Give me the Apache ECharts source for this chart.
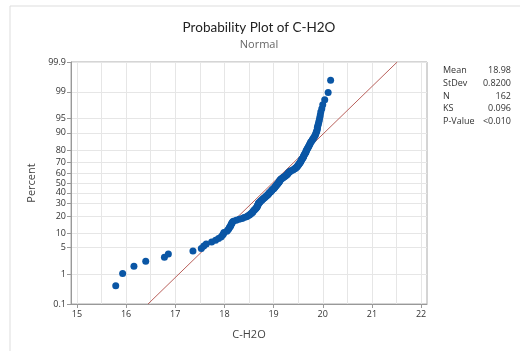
<!DOCTYPE html>
<html>
<head>
<meta charset="utf-8">
<script src="https://cdn.jsdelivr.net/npm/echarts@6/dist/echarts.min.js"></script>
<style>
  html, body { margin: 0; padding: 0; background: #fff; }
  #chart { width: 520px; height: 351px; }
</style>
</head>
<body>
<div id="chart"></div>
<script>
var cH2O = [
  15.79, 15.93, 16.16, 16.40, 16.78, 16.86, 17.36,
  17.53, 17.58, 17.63, 17.74, 17.82, 17.88,
  17.93, 17.96, 17.98, 17.99,
  18.05, 18.07, 18.09, 18.10, 18.12, 18.13, 18.14, 18.15, 18.16, 18.18,
  18.24, 18.30, 18.36, 18.40,
  18.45, 18.48, 18.51, 18.53,
  18.55, 18.57, 18.58, 18.59,
  18.61, 18.62, 18.64, 18.65, 18.66,
  18.67, 18.67, 18.68, 18.69, 18.69, 18.70,
  18.72, 18.73, 18.74, 18.76, 18.77,
  18.79, 18.80, 18.82, 18.83, 18.85, 18.86, 18.88, 18.89,
  18.90, 18.91, 18.92, 18.94, 18.95, 18.96, 18.97, 18.98, 19.00, 19.01, 19.02,
  19.03, 19.04, 19.05, 19.06, 19.07, 19.08, 19.09, 19.10,
  19.11, 19.12, 19.12, 19.13, 19.14, 19.15,
  19.17, 19.19, 19.20, 19.22, 19.24, 19.25, 19.27,
  19.28, 19.29, 19.30, 19.31, 19.33, 19.34,
  19.37, 19.40, 19.42, 19.44, 19.45, 19.47, 19.48,
  19.49, 19.50, 19.51, 19.52, 19.53, 19.54,
  19.55, 19.56, 19.56, 19.57, 19.58, 19.59, 19.60, 19.61, 19.61,
  19.62, 19.63, 19.64, 19.65, 19.66, 19.66, 19.67, 19.68,
  19.69, 19.70, 19.71, 19.72, 19.73, 19.74, 19.75,
  19.76, 19.78, 19.79, 19.81, 19.82,
  19.84, 19.85, 19.86, 19.87,
  19.88, 19.89, 19.89, 19.90,
  19.91, 19.92, 19.93, 19.94,
  19.95, 19.96, 19.98,
  20.00, 20.04, 20.11, 20.16
];
var percentTicks = [0.1, 1, 5, 10, 20, 30, 40, 50, 60, 70, 80, 90, 95, 99, 99.9];
var xTicks = [15, 16, 17, 18, 19, 20, 21, 22];
var xGrid = [15, 15.5, 16, 16.5, 17, 17.5, 18, 18.5, 19, 19.5, 20, 20.5, 21, 21.5, 22];
var statNames = ['Mean', 'StDev', 'N', 'KS', 'P-Value'];
var statValues = ['18.98', '0.8200', '162', '0.096', '<0.010'];
var mean = 18.98, stdev = 0.82;

// inverse standard normal (Acklam)
function normInv(p) {
  var a = [-39.69683028665376, 220.9460984245205, -275.9285104469687, 138.3577518672690, -30.66479806614716, 2.506628277459239];
  var b = [-54.47609879822406, 161.5858368580409, -155.6989798598866, 66.80131188771972, -13.28068155288572];
  var c = [-0.007784894002430293, -0.3223964580411365, -2.400758277161838, -2.549732539343734, 4.374664141464968, 2.938163982698783];
  var d = [0.007784695709041462, 0.3224671290700398, 2.445134137142996, 3.754408661907416];
  var q, r;
  if (p < 0.02425) {
    q = Math.sqrt(-2 * Math.log(p));
    return (((((c[0]*q+c[1])*q+c[2])*q+c[3])*q+c[4])*q+c[5]) / ((((d[0]*q+d[1])*q+d[2])*q+d[3])*q+1);
  }
  if (p > 1 - 0.02425) {
    q = Math.sqrt(-2 * Math.log(1 - p));
    return -(((((c[0]*q+c[1])*q+c[2])*q+c[3])*q+c[4])*q+c[5]) / ((((d[0]*q+d[1])*q+d[2])*q+d[3])*q+1);
  }
  q = p - 0.5; r = q * q;
  return (((((a[0]*r+a[1])*r+a[2])*r+a[3])*r+a[4])*r+a[5])*q / (((((b[0]*r+b[1])*r+b[2])*r+b[3])*r+b[4])*r+1);
}

var n = cH2O.length;
// median rank plotting positions
var points = cH2O.map(function (v, i) {
  return [v, normInv((i + 1 - 0.3) / (n + 0.4))];
});
var zTicks = percentTicks.map(function (p) { return normInv(p / 100); });
var zMin = zTicks[0], zMax = zTicks[zTicks.length - 1];
var fitLine = [[mean + zMin * stdev, zMin], [mean + zMax * stdev, zMax]];

var font = 'Open Sans';
var chart = echarts.init(document.getElementById('chart'));

var graphics = [
  { type: 'line', shape: { x1: 10, y1: 6, x2: 520, y2: 6 }, style: { stroke: '#dddddd', lineWidth: 1 } },
  { type: 'line', shape: { x1: 10, y1: 6, x2: 10, y2: 351 }, style: { stroke: '#dddddd', lineWidth: 1 } }
];
statNames.forEach(function (s, i) {
  graphics.push({ type: 'text', left: 443, top: 66 + i * 12.8,
    style: { text: s, font: '9px ' + font, fill: '#333' } });
  graphics.push({ type: 'text', right: 9, top: 66 + i * 12.8,
    style: { text: statValues[i], font: '9px ' + font, fill: '#333', textAlign: 'right' } });
});

chart.setOption({
  animation: false,
  title: {
    text: 'Probability Plot of C-H2O',
    subtext: 'Normal',
    left: 254, top: 16, textAlign: 'center', itemGap: 4,
    textStyle: { fontFamily: 'Lato', fontSize: 13.5, fontWeight: 'normal', color: '#222' },
    subtextStyle: { fontFamily: font, fontSize: 11, color: '#666' }
  },
  grid: { left: 71, right: 93, top: 62, bottom: 47, show: true, borderColor: '#aaaaaa', borderWidth: 1 },
  xAxis: [{
    type: 'value', min: 14.88, max: 22.12,
    name: 'C-H2O', nameLocation: 'middle', nameGap: 25,
    nameTextStyle: { fontFamily: font, fontSize: 11, color: '#444' },
    axisLine: { onZero: false, lineStyle: { color: '#999', width: 1 } },
    axisTick: { show: true, length: 4, lineStyle: { color: '#999' }, customValues: xTicks },
    axisLabel: { customValues: xTicks, fontFamily: font, fontSize: 9, color: '#333', margin: 6 },
    splitLine: { show: false }
  }, {
    type: 'value', min: 14.88, max: 22.12, position: 'bottom',
    axisLine: { show: false }, axisLabel: { show: false },
    axisTick: { show: false, customValues: xGrid },
    splitLine: { show: true, lineStyle: { color: '#e6e6e6' } }
  }],
  yAxis: {
    type: 'value', min: zMin, max: zMax,
    name: 'Percent', nameLocation: 'middle', nameGap: 28,
    nameTextStyle: { fontFamily: font, fontSize: 11, color: '#444' },
    axisLine: { show: true, onZero: false, lineStyle: { color: '#999', width: 1 } },
    axisTick: { show: true, length: 4, lineStyle: { color: '#999' }, customValues: zTicks },
    axisLabel: {
      customValues: zTicks, fontFamily: font, fontSize: 9, color: '#333', margin: 5,
      formatter: function (v) {
        var best = 0;
        zTicks.forEach(function (z, i) { if (Math.abs(z - v) < Math.abs(zTicks[best] - v)) best = i; });
        return String(percentTicks[best]);
      }
    },
    splitLine: { show: true, lineStyle: { color: '#e6e6e6' } }
  },
  series: [{
    type: 'line', data: fitLine, symbol: 'none', silent: true,
    lineStyle: { color: '#b9605b', width: 1 }, z: 2
  }, {
    type: 'scatter', data: points, symbol: 'circle', symbolSize: 7,
    itemStyle: { color: '#0a56a5', opacity: 1 }, z: 3
  }],
  graphic: graphics
});
</script>
</body>
</html>
